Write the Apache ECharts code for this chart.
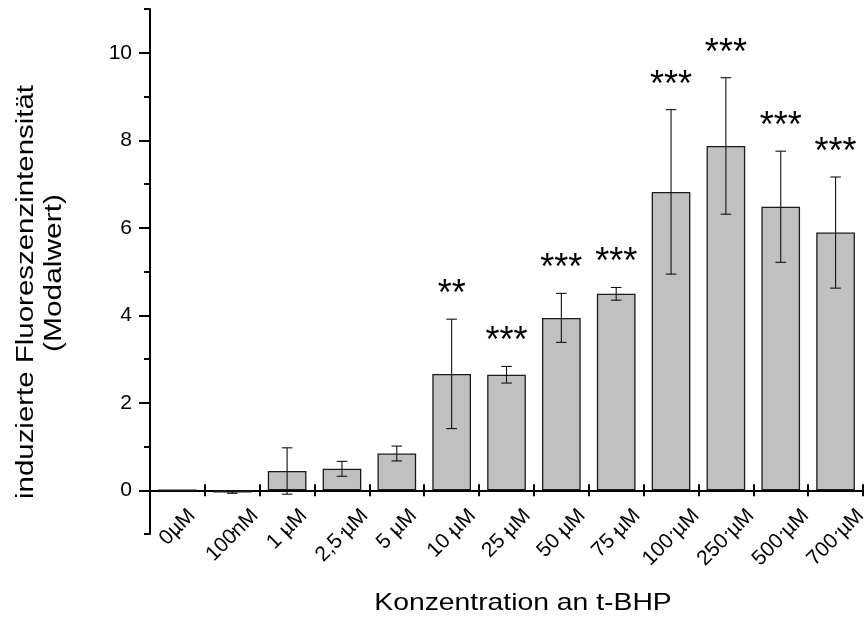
<!DOCTYPE html>
<html>
<head>
<meta charset="utf-8">
<script src="https://cdn.jsdelivr.net/npm/echarts@6/dist/echarts.min.js"></script>
<style>
  html, body { margin: 0; padding: 0; background: #ffffff; }
  #chart { width: 864px; height: 618px; }
</style>
</head>
<body>
<div id="chart"></div>
<script>
// t-BHP concentrations and induced fluorescence (mode value), mean ± error
const categories = ['0µM', '100nM', '1 µM', '2,5 µM', '5 µM', '10 µM', '25 µM', '50 µM', '75 µM', '100 µM', '250 µM', '500 µM', '700 µM'];
const meanValues = [0, -0.05, 0.44, 0.49, 0.84, 2.66, 2.64, 3.94, 4.49, 6.82, 7.87, 6.48, 5.89];
const errorValues = [null, 0.02, 0.53, 0.17, 0.17, 1.25, 0.19, 0.56, 0.145, 1.88, 1.56, 1.27, 1.27];
const significance = ['', '', '', '', '', '**', '***', '***', '***', '***', '***', '***', '***'];
const yMajorTicks = [0, 2, 4, 6, 8, 10];
const yMinorTicks = [-1, 1, 3, 5, 7, 9, 11];

const FONT = '"Liberation Sans", Arial, Helvetica, sans-serif';
const LABEL_SIZE = 21;
const LABEL_TOP_GAP = 17;
const STAR_SIZE = 36;

const measureCtx = document.createElement('canvas').getContext('2d');
function textWidth(str, size) {
  measureCtx.font = size + 'px ' + FONT;
  return measureCtx.measureText(str).width;
}

const chart = echarts.init(document.getElementById('chart'), null, { renderer: 'canvas' });

const errorData = [];
meanValues.forEach((m, i) => { if (errorValues[i] != null) errorData.push([i, m, errorValues[i]]); });
const starData = [];
meanValues.forEach((m, i) => { if (significance[i]) starData.push([i, m + (errorValues[i] || 0)]); });
const labelData = categories.map((c, i) => [i, 0]);

const option = {
  animation: false,
  backgroundColor: '#ffffff',
  grid: { left: 150, top: 9, width: 713, height: 525, containLabel: false },
  xAxis: [
    {
      type: 'category', data: categories, position: 'bottom',
      axisLine: { show: true, onZero: true, lineStyle: { color: '#000', width: 2 } },
      axisTick: { show: true, length: 6, lineStyle: { color: '#000', width: 2 } },
      axisLabel: { show: false },
      splitLine: { show: false }
    },
    {
      type: 'category', data: categories, position: 'bottom',
      axisLine: { show: false, onZero: true },
      axisTick: { show: true, inside: true, length: 6, lineStyle: { color: '#000', width: 2 } },
      axisLabel: { show: false },
      splitLine: { show: false }
    },
    {
      type: 'category', data: categories, position: 'bottom',
      axisLine: { show: false, onZero: true },
      axisTick: { show: true, inside: true, alignWithLabel: true, length: 3, lineStyle: { color: '#000', width: 1.5 } },
      axisLabel: { show: false },
      splitLine: { show: false }
    }
  ],
  yAxis: [
    {
      type: 'value', min: -1, max: 11, interval: 1, position: 'left',
      axisLine: { show: true, onZero: false, lineStyle: { color: '#000', width: 2 } },
      axisTick: { show: true, length: 11, customValues: yMajorTicks, lineStyle: { color: '#000', width: 2 } },
      axisLabel: { show: true, customValues: yMajorTicks, margin: 18, color: '#000', fontSize: 21, fontFamily: FONT },
      splitLine: { show: false }
    },
    {
      type: 'value', min: -1, max: 11, interval: 1, position: 'left',
      axisLine: { show: false, onZero: false },
      axisTick: { show: true, length: 6, customValues: yMinorTicks, lineStyle: { color: '#000', width: 2 } },
      axisLabel: { show: false },
      splitLine: { show: false }
    }
  ],
  graphic: [
    {
      type: 'text', x: 27, y: 292, rotation: Math.PI / 2, scaleX: 1.28,
      style: { text: 'induzierte Fluoreszenzintensität', font: '23px ' + FONT, fill: '#000', align: 'center', verticalAlign: 'middle' }
    },
    {
      type: 'text', x: 55, y: 273, rotation: Math.PI / 2, scaleX: 1.3,
      style: { text: '(Modalwert)', font: '23px ' + FONT, fill: '#000', align: 'center', verticalAlign: 'middle' }
    },
    {
      type: 'text', x: 523, y: 603, scaleX: 1.18,
      style: { text: 'Konzentration an t-BHP', font: '24px ' + FONT, fill: '#000', align: 'center', verticalAlign: 'middle' }
    }
  ],
  series: [
    {
      type: 'bar', xAxisIndex: 0, yAxisIndex: 0, data: meanValues, barWidth: '70.5%',
      silent: true,
      itemStyle: { color: '#c0c0c0', borderColor: '#1a1a1a', borderWidth: 1.3 },
      z: 2
    },
    {
      // error bars: vertical whisker with caps
      type: 'custom', xAxisIndex: 0, yAxisIndex: 0, data: errorData, silent: true, z: 3,
      renderItem(params, api) {
        const i = api.value(0), m = api.value(1), e = api.value(2);
        const top = api.coord([i, m + e]);
        const bot = api.coord([i, m - e]);
        const cap = 5.3;
        const style = { stroke: '#111', lineWidth: 1.1, fill: null };
        return {
          type: 'group',
          children: [
            { type: 'line', shape: { x1: top[0], y1: top[1], x2: bot[0], y2: bot[1] }, style },
            { type: 'line', shape: { x1: top[0] - cap, y1: top[1], x2: top[0] + cap, y2: top[1] }, style },
            { type: 'line', shape: { x1: bot[0] - cap, y1: bot[1], x2: bot[0] + cap, y2: bot[1] }, style }
          ]
        };
      }
    },
    {
      // significance stars above the error bars
      type: 'custom', xAxisIndex: 0, yAxisIndex: 0, data: starData, silent: true, z: 4,
      renderItem(params, api) {
        const i = api.value(0);
        const p = api.coord([i, api.value(1)]);
        return {
          type: 'text', x: p[0], y: p[1] - 24,
          style: { text: significance[i], font: STAR_SIZE + 'px ' + FONT, fill: '#000', align: 'center', verticalAlign: 'middle' }
        };
      }
    },
    {
      // rotated category labels under the axis
      type: 'custom', xAxisIndex: 0, yAxisIndex: 0, data: labelData, silent: true, z: 4,
      renderItem(params, api) {
        const i = api.value(0);
        const p = api.coord([i, 0]);
        const label = categories[i];
        const w = textWidth(label, LABEL_SIZE);
        const half = 0.7071 * (w + LABEL_SIZE * 0.72) / 2;
        return {
          type: 'text', x: p[0], y: p[1] + LABEL_TOP_GAP + half,
          rotation: Math.PI / 4,
          style: { text: label, font: LABEL_SIZE + 'px ' + FONT, fill: '#000', align: 'center', verticalAlign: 'middle' }
        };
      }
    }
  ]
};

chart.setOption(option);
</script>
</body>
</html>
